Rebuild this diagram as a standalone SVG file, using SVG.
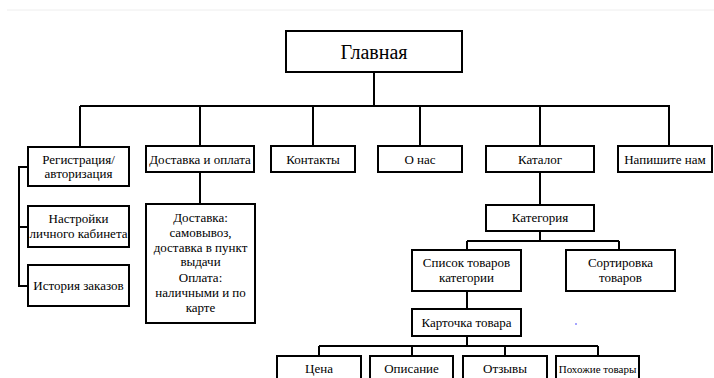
<svg xmlns="http://www.w3.org/2000/svg" width="714" height="378" viewBox="0 0 714 378">
<style>
.box{fill:#fff;stroke:#000;stroke-width:2}
.t{font-family:"Liberation Serif","Times New Roman",serif;font-size:13px;fill:#000;text-anchor:middle}
.big{font-size:20px}
.sm{font-size:11px}
.c{fill:none;stroke:#000;stroke-width:2}
</style>
<rect width="714" height="378" fill="#fff"/>
<line x1="7" y1="10" x2="714" y2="10" stroke="#eee" stroke-width="1"/>
<g id="connectors">
<path class="c" d="M374 72V106M80 106H670M80 106V147M200 106V146M313 106V146M420 106V146M540 106V146M669 106V146"/>
<path class="c" d="M28 167H19V286H28M19 227H28"/>
<path class="c" d="M200 172V204"/>
<path class="c" d="M540 172V205M540 231V241M467 241H619M467 241V250M619 241V250"/>
<path class="c" d="M467 291V309M467 336V346M319 346H598M319 346V356M412 346V356M505 346V356M598 346V356"/>
</g>
<g id="glavnaya"><rect class="box" x="286" y="31" width="176" height="41"/><text class="t big" x="374" y="59">Главная</text></g>
<g id="registration"><rect class="box" x="28" y="147" width="101" height="39"/><text class="t" x="78.5" y="164">Регистрация/</text><text class="t" x="78.5" y="178">авторизация</text></g>
<g id="settings"><rect class="box" x="28" y="206" width="101" height="41"/><text class="t" x="78.5" y="223">Настройки</text><text class="t" x="78.5" y="238">личного кабинета</text></g>
<g id="history"><rect class="box" x="28" y="265" width="101" height="41"/><text class="t" x="78.5" y="290">История заказов</text></g>
<g id="delivery"><rect class="box" x="146" y="146" width="108" height="26"/><text class="t" x="200" y="164">Доставка и оплата</text></g>
<g id="delivery-details"><rect class="box" x="146" y="204" width="109" height="119"/>
<text class="t" x="200.5" y="222">Доставка:</text>
<text class="t" x="200.5" y="237">самовывоз,</text>
<text class="t" x="200.5" y="252">доставка в пункт</text>
<text class="t" x="200.5" y="266">выдачи</text>
<text class="t" x="200.5" y="282">Оплата:</text>
<text class="t" x="200.5" y="297">наличными и по</text>
<text class="t" x="200.5" y="312">карте</text></g>
<g id="contacts"><rect class="box" x="271" y="146" width="84" height="26"/><text class="t" x="313" y="164">Контакты</text></g>
<g id="about"><rect class="box" x="378" y="146" width="84" height="26"/><text class="t" x="420" y="164">О нас</text></g>
<g id="catalog"><rect class="box" x="486" y="146" width="108" height="26"/><text class="t" x="540" y="164">Каталог</text></g>
<g id="write-us"><rect class="box" x="618" y="146" width="94" height="26"/><text class="t" x="665" y="164">Напишите нам</text></g>
<g id="category"><rect class="box" x="486" y="205" width="108" height="26"/><text class="t" x="540" y="222">Категория</text></g>
<g id="list"><rect class="box" x="412" y="250" width="109" height="41"/><text class="t" x="466.5" y="267">Список товаров</text><text class="t" x="466.5" y="282">категории</text></g>
<g id="sort"><rect class="box" x="566" y="250" width="109" height="41"/><text class="t" x="620.5" y="267">Сортировка</text><text class="t" x="620.5" y="282">товаров</text></g>
<g id="card"><rect class="box" x="412" y="309" width="109" height="27"/><text class="t" x="466.5" y="327">Карточка товара</text></g>
<g id="price"><rect class="box" x="277" y="356" width="84" height="30"/><text class="t" x="319" y="373">Цена</text></g>
<g id="description"><rect class="box" x="370" y="356" width="83" height="30"/><text class="t" x="411.5" y="373">Описание</text></g>
<g id="reviews"><rect class="box" x="463" y="356" width="84" height="30"/><text class="t" x="505" y="373">Отзывы</text></g>
<g id="similar"><rect class="box" x="556" y="356" width="83" height="30"/><text class="t sm" x="597.5" y="373">Похожие товары</text></g>
<circle cx="576" cy="324" r="0.8" fill="#33f"/>
</svg>
